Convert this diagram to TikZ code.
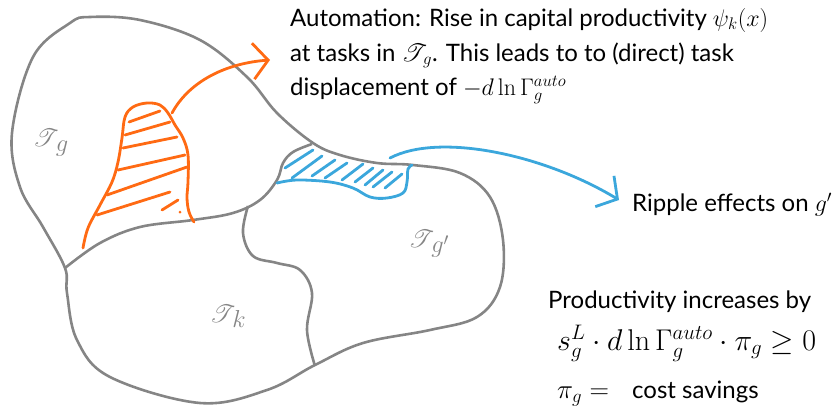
\documentclass[tikz,border=0pt]{standalone}
\usepackage{fix-cm}
\usepackage{mathrsfs}
\usepackage[no-math]{fontspec}
\setmainfont{Lato}
\usetikzlibrary{arrows.meta}
\definecolor{regiongray}{HTML}{858585}
\definecolor{autoorange}{HTML}{FF6A13}
\definecolor{rippleblue}{HTML}{3BA7DC}
\newcommand{\Tset}{\mathscr{T}}

\begin{document}
\begin{tikzpicture}[x=1pt, y=-1pt,
    region/.style={draw=regiongray, line width=2.6pt, line join=round},
    autoline/.style={draw=autoorange, line width=2.8pt, line cap=round, line join=round},
    rippleline/.style={draw=rippleblue, line width=2.8pt, line cap=round, line join=round},
    settag/.style={text=regiongray, font=\fontsize{35}{35}\selectfont},
    note/.style={anchor=base west, inner sep=0pt, font=\fontsize{24}{24}\selectfont},
    bignote/.style={anchor=base west, inner sep=0pt, font=\fontsize{30}{30}\selectfont},
    arrow/.style={-{Straight Barb[length=15pt,width=36pt]}}
]
\useasboundingbox (0,0) rectangle (837,413);

% task space and its three regions
\draw[region] plot[smooth cycle, tension=0.6] coordinates {
  (90,17) (140,20) (200,40) (247,77) (277,113) (313,143) (340,155) (377,163)
  (413,165) (460,173) (490,197) (503,240) (500,287) (477,317) (430,330)
  (363,343) (315,365) (267,390) (200,403) (110,377) (77,340) (67,293)
  (65,268) (43,227) (20,187) (12,133) (33,57) (70,23)};
\draw[region] plot[smooth, tension=0.6] coordinates {
  (65,268) (100,243) (140,227) (193,220) (233,213) (260,200) (277,180)
  (283,163) (293,152) (312,144)};
\draw[region] plot[smooth, tension=0.6] coordinates {
  (248,206) (243,233) (253,256) (277,263) (300,270) (312,293) (307,330) (315,366)};

\node[settag] (tg)  at (51,143)  {$\Tset_{\,g}$};
\node[settag] (tk)  at (228,316) {$\Tset_{\,k}$};
\node[settag] (tgp) at (429,244) {$\Tset_{\,g'}$};

% automated tasks
\draw[autoline] plot[smooth, tension=0.6] coordinates {
  (83,248) (88,228) (100,205) (112,182) (118,162) (122,138) (125,117) (133,107)
  (147,103) (160,105) (168,113) (175,125) (183,138) (188,155) (188,182)
  (187,198) (189,212) (194,222)};
\foreach \xa/\ya/\xb/\yb in {129/122/160/111, 125/135/170/122, 123/148/177/137,
                             118/170/185/155, 107/195/187/167, 97/215/170/192,
                             162/210/178/200}
  \draw[autoline] (\xa,\ya) -- (\xb,\yb);
\fill[autoorange] (180,212) circle (1.5);

% ripple region
\draw[rippleline] plot[smooth, tension=0.6] coordinates {
  (277,183) (297,180) (330,182) (353,188) (370,197) (387,198) (403,193)
  (407,182) (408,169) (412,165)};
\foreach \xa/\ya/\xb/\yb in {285/168/313/150, 292/178/322/156, 312/176/335/160,
                             325/178/347/163, 342/180/363/164, 355/182/373/168,
                             365/185/383/170, 373/187/392/172, 385/188/402/174}
  \draw[rippleline] (\xa,\ya) -- (\xb,\yb);

% notes
\node[note] (auto1) at (290,26) {Automation: Rise in capital productivity $\psi_k(x)$};
\node[note] (auto2) at (290,61) {at tasks in $\Tset_{\,g}$. This leads to to (direct) task};
\node[note] (auto3) at (290,95) {displacement of $-d\ln\Gamma_g^{auto}$};
\node[note] (ripple) at (632,211) {Ripple effects on $g'$};
\node[note] (prod) at (548,308) {Productivity increases by};
\node[bignote] (gain) at (557,350) {$s_g^L\cdot d\ln\Gamma_g^{auto}\cdot\pi_g\geq 0$};
\node[bignote, font=\fontsize{27}{27}\selectfont] (pi) at (557,398) {$\pi_g=$};
\node[note] (cost) at (632,398) {cost savings};

% arrows
\coordinate (autosrc) at (172,113);
\coordinate (autotip) at (270,60);
\coordinate (ripsrc) at (390,158);
\coordinate (riptip) at (619,200);
\draw[autoline, arrow] (autosrc) .. controls (190,80) and (228,63) .. (autotip);
\draw[rippleline, arrow] (ripsrc) .. controls (440,132) and (545,155) .. (riptip);
\end{tikzpicture}
\end{document}
